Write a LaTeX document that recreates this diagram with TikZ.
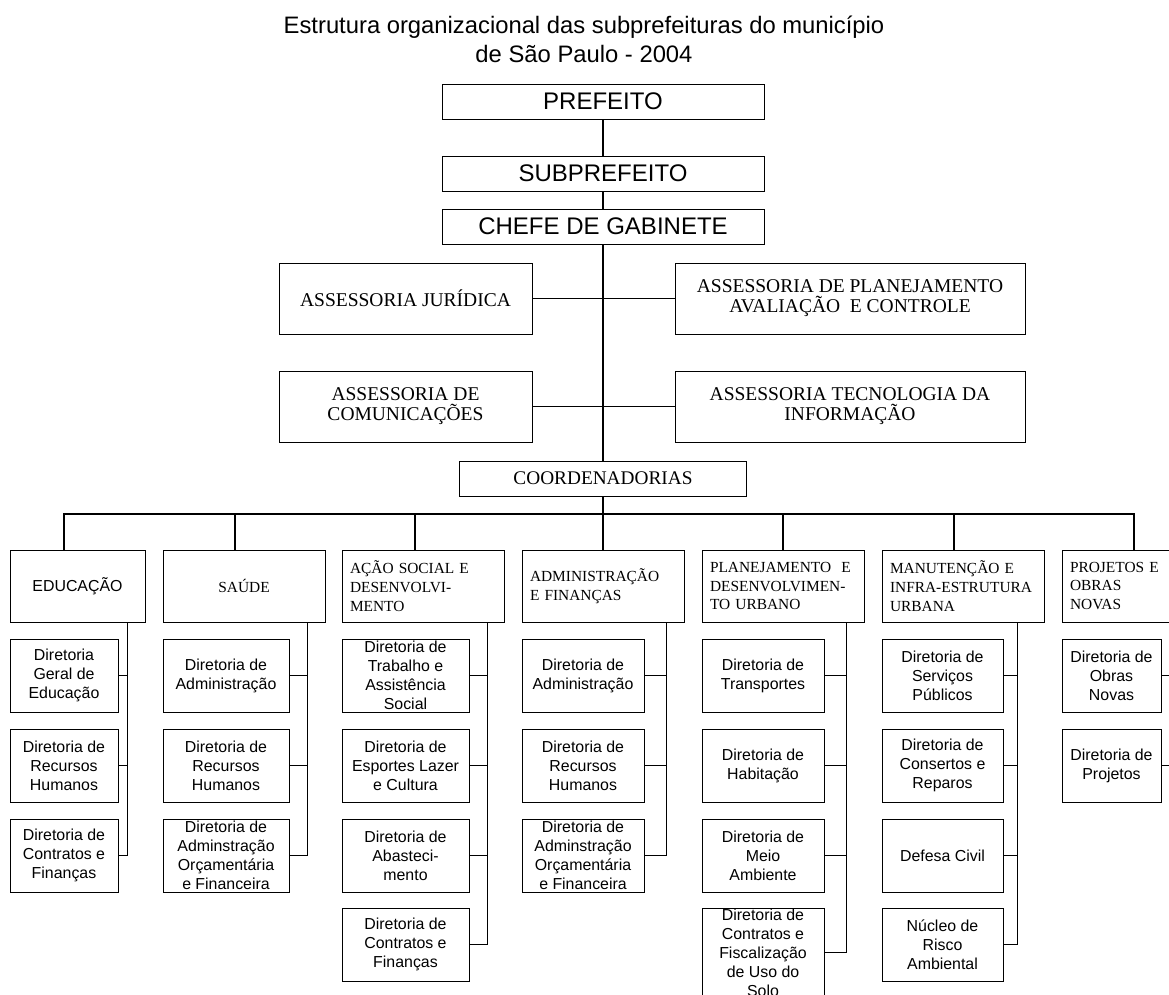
\documentclass[tikz,border=0pt]{standalone}
\usepackage{fontspec}
\setmainfont{Liberation Sans}
\newfontfamily\timesrm{Liberation Serif}

\begin{document}
\begin{tikzpicture}[x=1pt, y=-1pt,
    box/.style={draw, line width=1pt, inner sep=0pt, align=center},
    topbox/.style={box, minimum width=322pt, minimum height=35pt,
                   font=\fontsize{24}{28}\selectfont},
    assbox/.style={box, minimum height=71pt,
                   font=\timesrm\fontsize{19.5}{20}\selectfont},
    coordbox/.style={box, minimum width=162pt, minimum height=72pt,
                   font=\timesrm\fontsize{15.4}{18.7}\selectfont},
    coordleft/.style={coordbox, text width=146pt, inner xsep=8pt, align=left},
    dirbox/.style={box, minimum height=73pt, font=\fontsize{15.9}{19}\selectfont},
    link/.style={line width=1.3pt, line cap=rect},
  ]
  \useasboundingbox (0,0) rectangle (1169,994);

  \node[font=\fontsize{23.8}{29}\selectfont, align=center] (title) at (584,39)
       {Estrutura organizacional das subprefeituras do município\\de São Paulo - 2004};

  \node[topbox] (pref)  at (603,101.5) {PREFEITO};
  \node[topbox] (subp)  at (603,173.5) {SUBPREFEITO};
  \node[topbox] (chefe) at (603,226.5) {CHEFE DE GABINETE};

  \node[assbox, minimum width=253pt] (asjur)  at (405.5,298.5) {ASSESSORIA JURÍDICA};
  \node[assbox, minimum width=350pt] (asplan) at (850,298.5)
       {ASSESSORIA DE PLANEJAMENTO\\AVALIAÇÃO\ \ E CONTROLE};
  \node[assbox, minimum width=253pt] (ascom)  at (405.5,406.5) {ASSESSORIA DE\\COMUNICAÇÕES};
  \node[assbox, minimum width=350pt] (astec)  at (850,406.5) {ASSESSORIA TECNOLOGIA DA\\INFORMAÇÃO};

  \node[box, minimum width=287pt, minimum height=35pt,
        font=\timesrm\fontsize{19.3}{20}\selectfont] (coord) at (603,478.5) {COORDENADORIAS};

  % coordenadorias
  \node[coordbox, minimum width=135pt, font=\fontsize{15.9}{19}\selectfont] (edu) at (77.5,586) {EDUCAÇÃO};
  \node[coordbox]  (sau) at (244,586)  {SAÚDE};
  \node[coordleft] (aca) at (423,586)  {AÇÃO SOCIAL E\\DESENVOLVI-\\MENTO};
  \node[coordleft] (adm) at (603,586)  {ADMINISTRAÇÃO\\E FINANÇAS};
  \node[coordleft] (pla) at (783,586)  {\mbox{PLANEJAMENTO\ \ E}\\DESENVOLVIMEN-\\TO URBANO};
  \node[coordleft] (man) at (963,586)  {MANUTENÇÃO E\\\mbox{INFRA-ESTRUTURA}\\URBANA};
  \node[coordleft] (pro) at (1143,586) {PROJETOS E\\OBRAS\\NOVAS};

  % diretorias
  \node[dirbox, minimum width=108pt] (edu1) at (64,675.5) {Diretoria\\Geral de\\Educação};
  \node[dirbox, minimum width=108pt] (edu2) at (64,765.5) {Diretoria de\\Recursos\\Humanos};
  \node[dirbox, minimum width=108pt] (edu3) at (64,855.5) {Diretoria de\\Contratos e\\Finanças};

  \node[dirbox, minimum width=126pt] (sau1) at (226,675.5) {Diretoria de\\Administração};
  \node[dirbox, minimum width=126pt] (sau2) at (226,765.5) {Diretoria de\\Recursos\\Humanos};
  \node[dirbox, minimum width=126pt] (sau3) at (226,855.5)
       {Diretoria de\\Adminstração\\Orçamentária\\e Financeira};

  \node[dirbox, minimum width=127pt] (aca1) at (405.5,675.5)
       {Diretoria de\\Trabalho e\\Assistência\\Social};
  \node[dirbox, minimum width=127pt] (aca2) at (405.5,765.5) {Diretoria de\\Esportes Lazer\\e Cultura};
  \node[dirbox, minimum width=127pt] (aca3) at (405.5,855.5) {Diretoria de\\Abasteci-\\mento};
  \node[dirbox, minimum width=127pt] (aca4) at (405.5,944.5) {Diretoria de\\Contratos e\\Finanças};

  \node[dirbox, minimum width=122pt] (adm1) at (583,675.5) {Diretoria de\\Administração};
  \node[dirbox, minimum width=122pt] (adm2) at (583,765.5) {Diretoria de\\Recursos\\Humanos};
  \node[dirbox, minimum width=122pt] (adm3) at (583,855.5)
       {Diretoria de\\Adminstração\\Orçamentária\\e Financeira};

  \node[dirbox, minimum width=122pt] (pla1) at (763,675.5) {Diretoria de\\Transportes};
  \node[dirbox, minimum width=122pt] (pla2) at (763,765.5) {Diretoria de\\Habitação};
  \node[dirbox, minimum width=122pt] (pla3) at (763,855.5) {Diretoria de\\Meio\\Ambiente};
  \node[dirbox, minimum width=122pt, anchor=north] (pla4) at (763,908)
       {Diretoria de\\Contratos e\\Fiscalização\\de Uso do\\Solo};

  \node[dirbox, minimum width=121pt] (man1) at (942.5,675.5) {Diretoria de\\Serviços\\Públicos};
  \node[dirbox, minimum width=121pt] (man2) at (942.5,765.5) {Diretoria de\\Consertos e\\Reparos};
  \node[dirbox, minimum width=121pt] (man3) at (942.5,855.5) {Defesa Civil};
  \node[dirbox, minimum width=121pt] (man4) at (942.5,944.5) {Núcleo de\\Risco\\Ambiental};

  \node[dirbox, minimum width=99pt] (pro1) at (1111.5,675.5) {Diretoria de\\Obras\\Novas};
  \node[dirbox, minimum width=99pt] (pro2) at (1111.5,765.5) {Diretoria de\\Projetos};

  % ligações
  \draw[link] (pref.south) -- (subp.north);
  \draw[link] (subp.south) -- (chefe.north);
  \draw[link] (chefe.south) -- (coord.north);
  \draw[link] (asjur.east) -- (asplan.west);
  \draw[link] (ascom.east) -- (astec.west);

  \coordinate (bus) at (603,514);
  \draw[link] (coord.south) -- (bus);
  \draw[link] ([xshift=-13.5pt]edu.north) |- (bus) -| ([xshift=-9pt]pro.north);
  \foreach \n/\dx in {sau/-9, aca/-8, adm/0, pla/0, man/-9}
    \draw[link] ([xshift=\dx pt]\n.north) -- ([xshift=\dx pt]\n.north |- bus);

  \foreach \n/\dx/\last in {edu/18/edu3, sau/18/sau3, aca/17/aca4, adm/18/adm3,
                            pla/18/pla4, man/27/man4, pro/44/pro2} {
    \coordinate (\n-v) at ([xshift=-\dx pt]\n.south east);
    \draw[link] (\n-v) -- (\n-v |- \last.east);
  }
  \foreach \c/\n in {edu1/edu, edu2/edu, edu3/edu, sau1/sau, sau2/sau, sau3/sau,
                     aca1/aca, aca2/aca, aca3/aca, aca4/aca, adm1/adm, adm2/adm, adm3/adm,
                     pla1/pla, pla2/pla, pla3/pla, pla4/pla, man1/man, man2/man, man3/man,
                     man4/man, pro1/pro, pro2/pro}
    \draw[link] (\c.east) -- (\c.east -| \n-v);
\end{tikzpicture}
\end{document}
